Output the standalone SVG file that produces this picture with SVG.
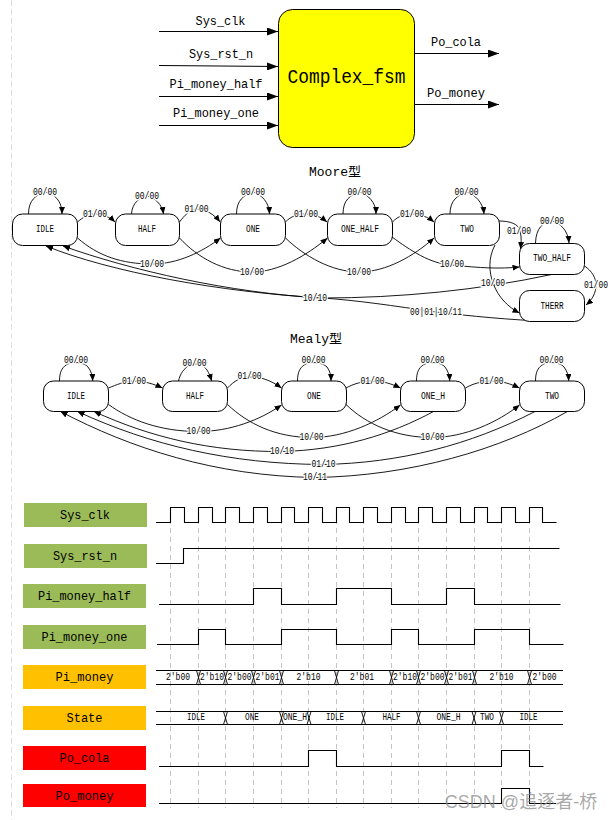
<svg xmlns="http://www.w3.org/2000/svg" width="613" height="820" viewBox="0 0 613 820">
<style>
text{font-family:"Liberation Mono","Noto Sans CJK SC",monospace;fill:#000;text-anchor:middle;dominant-baseline:central}
.t12{font-size:13px}
.nl{font-size:10px}
.el{font-size:10px;stroke:#fff;stroke-width:3px;paint-order:stroke;stroke-linejoin:round}
.n{fill:#fff;stroke:#000;stroke-width:1}
.e{fill:none;stroke:#000;stroke-width:.9}
.e1{marker-end:url(#a)}
.b{fill:none;stroke:#000;stroke-width:1;marker-end:url(#A)}
.w{fill:none;stroke:#000;stroke-width:1.1}
.g{stroke:#c4c4c4;stroke-width:1;stroke-dasharray:5 4;fill:none}
.gr{fill:#9BBB59}.or{fill:#FFC000}.re{fill:#FF0000}
</style>
<defs>
<marker id="a" markerUnits="userSpaceOnUse" markerWidth="8" markerHeight="6" refX="7" refY="3" orient="auto"><path d="M0,0L7,3L0,6Z" fill="#000"/></marker>
<marker id="A" markerUnits="userSpaceOnUse" markerWidth="12" markerHeight="8" refX="11" refY="4" orient="auto"><path d="M0,0L11,4L0,8Z" fill="#000"/></marker>
</defs>
<rect width="613" height="820" fill="#fff"/>
<path d="M11.5,0V820" stroke="#e2e2e2" stroke-dasharray="6 3" fill="none"/>

<g id="top-connectors">
<path class="b" d="M159,31.5H278"/><path class="b" d="M159,65.5L278,66.5"/><path class="b" d="M159,96.5H278"/><path class="b" d="M159,125.5H278"/>
<path class="b" d="M415,53.5H499"/><path class="b" d="M415,104.5H499"/>
<g class="t12"><text x="220.500" y="21" textLength="50" lengthAdjust="spacingAndGlyphs">Sys_clk</text><text x="221" y="54" textLength="64" lengthAdjust="spacingAndGlyphs">Sys_rst_n</text><text x="216" y="84.500" textLength="93" lengthAdjust="spacingAndGlyphs">Pi_money_half</text><text x="216" y="113" textLength="86" lengthAdjust="spacingAndGlyphs">Pi_money_one</text><text x="456" y="42" textLength="50" lengthAdjust="spacingAndGlyphs">Po_cola</text><text x="456" y="93" textLength="58" lengthAdjust="spacingAndGlyphs">Po_money</text></g>
</g>
<g id="fsm"><rect x="278.5" y="9.5" width="136" height="138" rx="14" fill="#FFFF00" stroke="#000"/><text x="346.500" y="77" font-size="20" textLength="118" lengthAdjust="spacingAndGlyphs">Complex_fsm</text></g>

<text class="t12" x="335" y="172">Moore型</text>
<g id="moore-connectors">
<path class="e e1" d="M28.5,214C28.5,200 36,195 45,192C54,194 62,200 62,214"/>
<path class="e e1" d="M131.5,214C132,203 140,197 147,196C155,198 162,204 163.500,214"/>
<path class="e e1" d="M236.500,214C236.500,200 244,195 253,192C262,195 269,202 269.500,214"/>
<path class="e e1" d="M343,214C343,200 350,195 360,192C368,195 376,202 376,214"/>
<path class="e e1" d="M450,214C450,200 458,195 467,192C475,195 483,202 484,214"/>
<path class="e e1" d="M535.500,243C536,228 543,222 552,221C560,223 568,230 569,243"/>
<path class="e e1" d="M77.500,222C82,218 88,214 95,214C102,214 110,217 115,222"/>
<path class="e e1" d="M179.500,222C184,216 190,209 197,209C205,209 214,214 220,222"/>
<path class="e e1" d="M285.500,222C291,216 298,214 306,214C314,214 321,217 327,222"/>
<path class="e e1" d="M392.500,222C398,216 405,214 412,214C420,214 428,217 434,222"/>
<path class="e e1" d="M499,221C510,221 519,224 520,231C522,238 521,243 520.500,249"/>
<path class="e e1" d="M584.500,266C592,271 596,278 596,285C596,293 592,300 586,305"/>
<path class="e e1" d="M495,245C488,258 489,272 493,283C498,297 508,307 519.500,313"/>
<path class="e e1" d="M77.500,238C98,256 122,264 152,264C178,264 202,252 220.500,238"/>
<path class="e e1" d="M179.500,238C198,258 224,272 252,272C278,272 306,256 327.500,238"/>
<path class="e e1" d="M285.500,238C304,256 332,272 359,272C386,272 414,256 434,238"/>
<path class="e e1" d="M392,237C410,250 430,264 452,265C480,268 500,269 519.500,267"/>
<path class="e e1" d="M551.500,274.500C480,290 400,298 322,298C230,293 130,270 63,246"/>
<path class="e e1" d="M551.500,321.500C510,320 470,316 436,312C395,306 355,300 322,298C220,292 110,272 46,246"/>
<g class="el">
<text x="45" y="192" textLength="24" lengthAdjust="spacingAndGlyphs">00/00</text><text x="147" y="196.500" textLength="24" lengthAdjust="spacingAndGlyphs">00/00</text><text x="253" y="192" textLength="24" lengthAdjust="spacingAndGlyphs">00/00</text><text x="359.500" y="192" textLength="24" lengthAdjust="spacingAndGlyphs">00/00</text><text x="466.500" y="192" textLength="24" lengthAdjust="spacingAndGlyphs">00/00</text><text x="552" y="221" textLength="24" lengthAdjust="spacingAndGlyphs">00/00</text>
<text x="95" y="214" textLength="24" lengthAdjust="spacingAndGlyphs">01/00</text><text x="196.500" y="209.500" textLength="24" lengthAdjust="spacingAndGlyphs">01/00</text><text x="306" y="214" textLength="24" lengthAdjust="spacingAndGlyphs">01/00</text><text x="412" y="214" textLength="24" lengthAdjust="spacingAndGlyphs">01/00</text><text x="519" y="231" textLength="24" lengthAdjust="spacingAndGlyphs">01/00</text><text x="596" y="285.500" textLength="24" lengthAdjust="spacingAndGlyphs">01/00</text>
<text x="152" y="264.500" textLength="24" lengthAdjust="spacingAndGlyphs">10/00</text><text x="252" y="272" textLength="24" lengthAdjust="spacingAndGlyphs">10/00</text><text x="359" y="272" textLength="24" lengthAdjust="spacingAndGlyphs">10/00</text><text x="452" y="264.500" textLength="24" lengthAdjust="spacingAndGlyphs">10/00</text><text x="493" y="283.500" textLength="24" lengthAdjust="spacingAndGlyphs">10/00</text>
<text x="315" y="298.500" textLength="24" lengthAdjust="spacingAndGlyphs">10/10</text><text x="436" y="312" textLength="52" lengthAdjust="spacingAndGlyphs">00|01|10/11</text>
</g>
</g>
<g id="m-IDLE"><rect class="n" x="12.500" y="214" width="65" height="31.500" rx="10"/><text class="nl" x="45" y="229" textLength="18" lengthAdjust="spacingAndGlyphs">IDLE</text></g>
<g id="m-HALF"><rect class="n" x="115.500" y="214" width="64" height="31.500" rx="10"/><text class="nl" x="147" y="229" textLength="18" lengthAdjust="spacingAndGlyphs">HALF</text></g>
<g id="m-ONE"><rect class="n" x="220.500" y="214" width="65" height="31.500" rx="10"/><text class="nl" x="253" y="229" textLength="14" lengthAdjust="spacingAndGlyphs">ONE</text></g>
<g id="m-ONE_HALF"><rect class="n" x="327.500" y="214" width="65" height="31.500" rx="10"/><text class="nl" x="360" y="229" textLength="38" lengthAdjust="spacingAndGlyphs">ONE_HALF</text></g>
<g id="m-TWO"><rect class="n" x="434.500" y="214" width="65" height="31.500" rx="10"/><text class="nl" x="467" y="229" textLength="14" lengthAdjust="spacingAndGlyphs">TWO</text></g>
<g id="m-TWO_HALF"><rect class="n" x="519.500" y="243.500" width="65" height="31" rx="10"/><text class="nl" x="552" y="258" textLength="38" lengthAdjust="spacingAndGlyphs">TWO_HALF</text></g>
<g id="m-THERR"><rect class="n" x="519.500" y="290.500" width="65" height="31" rx="10"/><text class="nl" x="552" y="306" textLength="23" lengthAdjust="spacingAndGlyphs">THERR</text></g>

<text class="t12" x="316" y="339">Mealy型</text>
<g id="mealy-connectors">
<path class="e e1" d="M59.500,381C59.500,372 62,368 66,365C72,361 84,362 88,367C91,371 92.500,375 92.700,381"/>
<path class="e e1" d="M178.500,381C180,374 184,368 190,365C198,362 204,366 207,370C209,373 210.500,377 211.700,381"/>
<path class="e e1" d="M297.500,381C297.500,372 300,368 304,365C310,361 322,362 327,367C330,371 331,375 331,381"/>
<path class="e e1" d="M416.500,381C416.500,372 419,368 423,365C429,361 441,362 445,367C448,371 449.500,375 449.700,381"/>
<path class="e e1" d="M535.500,381C535.500,372 538,368 542,365C548,361 560,362 564,367C567,371 568.500,375 568.700,381"/>
<path class="e e1" d="M108.500,388C116,385 125,381 134,381C144,381 154,384 162.500,388"/>
<path class="e e1" d="M227.500,388C234,381 241,377 249,377C260,376 272,381 281.500,388"/>
<path class="e e1" d="M346,388C353,384 363,381 373,381C383,381 392,384 400.500,388"/>
<path class="e e1" d="M465.500,388C472,384 482,381 492,381C502,381 511,384 519.500,388"/>
<path class="e e1" d="M108.500,404.500C130,420 160,431.500 198.500,431.500C230,431.500 260,420 281.500,405"/>
<path class="e e1" d="M227.500,404.500C248,424 276,437.500 312,437.500C345,437.500 378,422 400.500,405"/>
<path class="e e1" d="M346,404.500C366,424 396,437.500 432,437.500C465,437.500 498,422 519.500,405"/>
<path class="e e1" d="M433.500,411.500C390,435 340,450 282,451.500C210,452 150,437 94,411.500"/>
<path class="e e1" d="M535,411.500C470,445 400,463 323,464.500C230,464 150,445 77.500,411.500"/>
<path class="e e1" d="M567.500,411.500C500,450 410,476 315,477.500C215,476 130,448 60.500,411.500"/>
<g class="el">
<text x="76" y="360" textLength="24" lengthAdjust="spacingAndGlyphs">00/00</text><text x="194.500" y="363.500" textLength="24" lengthAdjust="spacingAndGlyphs">00/00</text><text x="313.500" y="360" textLength="24" lengthAdjust="spacingAndGlyphs">00/00</text><text x="432.500" y="360" textLength="24" lengthAdjust="spacingAndGlyphs">00/00</text><text x="551.500" y="360" textLength="24" lengthAdjust="spacingAndGlyphs">00/00</text>
<text x="134" y="381" textLength="24" lengthAdjust="spacingAndGlyphs">01/00</text><text x="249.500" y="376.500" textLength="24" lengthAdjust="spacingAndGlyphs">01/00</text><text x="372.500" y="381" textLength="24" lengthAdjust="spacingAndGlyphs">01/00</text><text x="491.500" y="381" textLength="24" lengthAdjust="spacingAndGlyphs">01/00</text>
<text x="198.500" y="431.500" textLength="24" lengthAdjust="spacingAndGlyphs">10/00</text><text x="311.500" y="437.500" textLength="24" lengthAdjust="spacingAndGlyphs">10/00</text><text x="432.500" y="437.500" textLength="24" lengthAdjust="spacingAndGlyphs">10/00</text>
<text x="282" y="451.500" textLength="24" lengthAdjust="spacingAndGlyphs">10/10</text><text x="323.500" y="464.500" textLength="24" lengthAdjust="spacingAndGlyphs">01/10</text><text x="315" y="477" textLength="24" lengthAdjust="spacingAndGlyphs">10/11</text>
</g>
</g>
<g id="h-IDLE"><rect class="n" x="43.500" y="381" width="65" height="30.500" rx="10"/><text class="nl" x="76" y="396" textLength="18" lengthAdjust="spacingAndGlyphs">IDLE</text></g>
<g id="h-HALF"><rect class="n" x="162.500" y="381" width="65" height="30.500" rx="10"/><text class="nl" x="195" y="396" textLength="18" lengthAdjust="spacingAndGlyphs">HALF</text></g>
<g id="h-ONE"><rect class="n" x="281.500" y="381" width="65" height="30.500" rx="10"/><text class="nl" x="314" y="396" textLength="14" lengthAdjust="spacingAndGlyphs">ONE</text></g>
<g id="h-ONE_H"><rect class="n" x="400.500" y="381" width="65" height="30.500" rx="10"/><text class="nl" x="433" y="396" textLength="24" lengthAdjust="spacingAndGlyphs">ONE_H</text></g>
<g id="h-TWO"><rect class="n" x="519.500" y="381" width="65" height="30.500" rx="10"/><text class="nl" x="552" y="396" textLength="14" lengthAdjust="spacingAndGlyphs">TWO</text></g>

<g id="grid">
<path class="g" d="M170.500,510V808M198.500,510V808M225.500,510V808M253.500,510V808M281.500,510V808M308.500,510V808M336.500,510V808M363.500,510V808M391.500,510V808M418.500,510V808M446.500,510V808M474.500,510V808M501.500,510V808M529.500,510V808"/>
</g>
<g id="sig-clk"><rect class="gr" x="24" y="503" width="123" height="24"/><text class="t12" x="85" y="515" textLength="50" lengthAdjust="spacingAndGlyphs">Sys_clk</text>
<path class="w" d="M156,522.500H170.500V507.500H184.500V522.500H198.500V507.500H212.500V522.500H225.500V507.500H239.500V522.500H253.500V507.500H267.500V522.500H281.500V507.500H294.500V522.500H308.500V507.500H322.500V522.500H336.500V507.500H349.500V522.500H363.500V507.500H377.500V522.500H391.500V507.500H405.500V522.500H418.500V507.500H432.500V522.500H446.500V507.500H460.500V522.500H474.500V507.500H487.500V522.500H501.500V507.500H515.500V522.500H529.500V507.500H542.500V522.500H556.500"/></g>
<g id="sig-rst"><rect class="gr" x="24" y="544" width="123" height="24"/><text class="t12" x="85" y="556" textLength="64" lengthAdjust="spacingAndGlyphs">Sys_rst_n</text>
<path class="w" d="M156,563.500H183.500V548.500H559.500"/></g>
<g id="sig-half"><rect class="gr" x="23" y="584" width="123" height="24"/><text class="t12" x="84.500" y="596" textLength="93" lengthAdjust="spacingAndGlyphs">Pi_money_half</text>
<path class="w" d="M159,604.500H253.500V588.500H281.500V604.500H336.500V588.500H391.500V604.500H446.500V588.500H474.500V604.500H560.500"/></g>
<g id="sig-one"><rect class="gr" x="23" y="625" width="123" height="24"/><text class="t12" x="84.500" y="637" textLength="86" lengthAdjust="spacingAndGlyphs">Pi_money_one</text>
<path class="w" d="M157,644.500H198.500V629.500H225.500V644.500H281.500V629.500H336.500V644.500H391.500V629.500H418.500V644.500H474.500V629.500H529.500V644.500H563.500"/></g>
<g id="sig-money"><rect class="or" x="23" y="665" width="123" height="24"/><text class="t12" x="84.500" y="677" textLength="58" lengthAdjust="spacingAndGlyphs">Pi_money</text>
<path class="w" d="M156,670.500H563M156,684.500H563"/>
<path class="e" d="M196.500,670.500L200.500,684.500M200.500,670.500L196.500,684.500M223.500,670.500L227.500,684.500M227.500,670.500L223.500,684.500M251.500,670.500L255.500,684.500M255.500,670.500L251.500,684.500M279.500,670.500L283.500,684.500M283.500,670.500L279.500,684.500M334.500,670.500L338.500,684.500M338.500,670.500L334.500,684.500M389.500,670.500L393.500,684.500M393.500,670.500L389.500,684.500M416.500,670.500L420.500,684.500M420.500,670.500L416.500,684.500M444.500,670.500L448.500,684.500M448.500,670.500L444.500,684.500M472.500,670.500L476.500,684.500M476.500,670.500L472.500,684.500M527.500,670.500L531.500,684.500M531.500,670.500L527.500,684.500"/>
<g class="nl"><text x="178" y="677" textLength="24" lengthAdjust="spacingAndGlyphs">2'b00</text><text x="212" y="677" textLength="24" lengthAdjust="spacingAndGlyphs">2'b10</text><text x="239.500" y="677" textLength="24" lengthAdjust="spacingAndGlyphs">2'b00</text><text x="267.500" y="677" textLength="24" lengthAdjust="spacingAndGlyphs">2'b01</text><text x="308.500" y="677" textLength="24" lengthAdjust="spacingAndGlyphs">2'b10</text><text x="362" y="677" textLength="24" lengthAdjust="spacingAndGlyphs">2'b01</text><text x="405" y="677" textLength="24" lengthAdjust="spacingAndGlyphs">2'b10</text><text x="432.500" y="677" textLength="24" lengthAdjust="spacingAndGlyphs">2'b00</text><text x="460.500" y="677" textLength="24" lengthAdjust="spacingAndGlyphs">2'b01</text><text x="501.500" y="677" textLength="24" lengthAdjust="spacingAndGlyphs">2'b10</text><text x="544.500" y="677" textLength="24" lengthAdjust="spacingAndGlyphs">2'b00</text></g></g>
<g id="sig-state"><rect class="or" x="23" y="706" width="123" height="24"/><text class="t12" x="84.500" y="718" textLength="36" lengthAdjust="spacingAndGlyphs">State</text>
<path class="w" d="M156,711.500H563M156,724.500H563"/>
<path class="e" d="M223.500,711.500L227.500,724.500M227.500,711.500L223.500,724.500M279.500,711.500L283.500,724.500M283.500,711.500L279.500,724.500M307,711.500L311,724.500M311,711.500L307,724.500M361.500,711.500L365.500,724.500M365.500,711.500L361.500,724.500M416.500,711.500L420.500,724.500M420.500,711.500L416.500,724.500M472,711.500L476,724.500M476,711.500L472,724.500M499.500,711.500L503.500,724.500M503.500,711.500L499.500,724.500"/>
<g class="nl"><text x="196" y="717" textLength="18" lengthAdjust="spacingAndGlyphs">IDLE</text><text x="252" y="717" textLength="14" lengthAdjust="spacingAndGlyphs">ONE</text><text x="295" y="717" textLength="24" lengthAdjust="spacingAndGlyphs">ONE_H</text><text x="335" y="717" textLength="18" lengthAdjust="spacingAndGlyphs">IDLE</text><text x="391.500" y="717" textLength="18" lengthAdjust="spacingAndGlyphs">HALF</text><text x="448.500" y="717" textLength="24" lengthAdjust="spacingAndGlyphs">ONE_H</text><text x="487" y="717" textLength="14" lengthAdjust="spacingAndGlyphs">TWO</text><text x="528.500" y="717.500" textLength="18" lengthAdjust="spacingAndGlyphs">IDLE</text></g></g>
<g id="sig-cola"><rect class="re" x="23" y="746" width="123" height="24"/><text class="t12" x="84.500" y="758" textLength="50" lengthAdjust="spacingAndGlyphs">Po_cola</text>
<path class="w" d="M159,766.500H308.500V750.500H336.500V766.500H501.500V750.500H529.500V766.500H543.500"/></g>
<g id="sig-pomoney"><rect class="re" x="23" y="784" width="123" height="23"/><text class="t12" x="84.500" y="796" textLength="58" lengthAdjust="spacingAndGlyphs">Po_money</text>
<path class="w" d="M159,803.500H501.500V788.500H529.500V803.500H556"/></g>
<text x="521" y="801.500" font-size="18" style="font-family:'Liberation Sans','Noto Sans CJK SC',sans-serif;fill:#8c8c8c;fill-opacity:.75">CSDN @追逐者-桥</text>
</svg>
